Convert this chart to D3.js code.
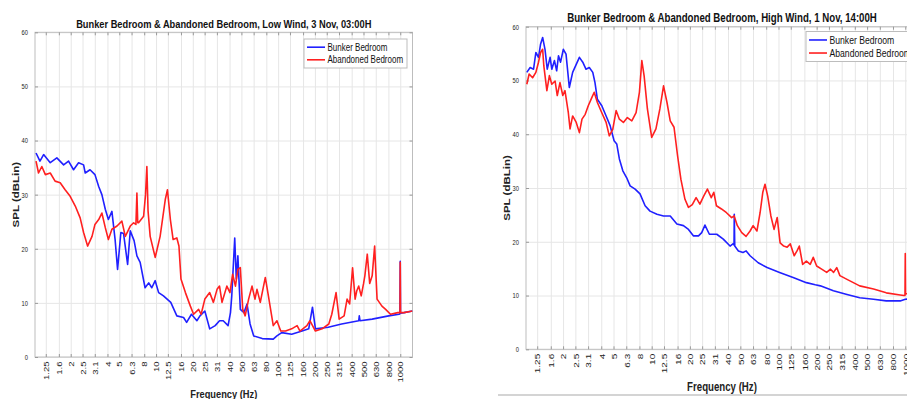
<!DOCTYPE html>
<html>
<head>
<meta charset="utf-8">
<title>Bunker Bedroom &amp; Abandoned Bedroom spectra</title>
<script src="https://cdn.jsdelivr.net/npm/d3@7/dist/d3.min.js"></script>
<style>
  html, body { margin: 0; padding: 0; background: #fff; }
  svg { display: block; font-family: "Liberation Sans", Arial, Helvetica, sans-serif; }
</style>
</head>
<body>
<svg id="chart" width="907" height="399"></svg>
<script>
// 1/3-octave band centres on the frequency axis (Hz) and the labels printed for them
const bandCentres = [1.25, 1.6, 2, 2.5, 3.15, 4, 5, 6.3, 8, 10, 12.5, 16, 20, 25, 31.5, 40, 50, 63, 80,
  100, 125, 160, 200, 250, 315, 400, 500, 630, 800, 1000];
const bandLabels = ["1.25", "1.6", "2", "2.5", "3.1", "4", "5", "6.3", "8", "10", "12.5", "16", "20", "25", "31",
  "40", "50", "63", "80", "100", "125", "160", "200", "250", "315", "400", "500", "630", "800", "1000"];
const splTicks = [0, 10, 20, 30, 40, 50, 60];
const seriesNames = ["Bunker Bedroom", "Abandoned Bedroom"];
const seriesColours = ["#2020ff", "#ff2020"];

// Low wind, 3 Nov, 03:00H  —  [frequency (Hz), SPL (dB Lin)]
const lowWindBunker = [
  [1.04, 37.7], [1.12, 36.2], [1.2, 37.4], [1.36, 35.9], [1.54, 36.8], [1.75, 35.5], [1.92, 36.2], [2.11, 34.6],
  [2.32, 35.9], [2.55, 35.5], [2.63, 34.0], [2.88, 34.6], [3.16, 33.7], [3.39, 31.5], [3.6, 30.0], [3.84, 27.3],
  [4.07, 25.4], [4.35, 26.9], [4.62, 21.7], [4.84, 16.2], [5.15, 23.0], [5.42, 22.8], [5.85, 17.1], [6.15, 23.3],
  [6.61, 21.5], [6.97, 18.7], [7.41, 17.5], [8.13, 12.8], [8.71, 13.7], [9.23, 12.8], [9.84, 14.1], [10.5, 11.9],
  [11.5, 11.3], [13.2, 10.1], [14.8, 7.6], [16.8, 7.3], [17.8, 6.4], [19.5, 7.9], [21.6, 6.7], [22.9, 7.6],
  [25.1, 8.5], [27.5, 5.2], [30.5, 5.8], [33.1, 6.7], [35.5, 6.7], [38.9, 5.8], [40.7, 8.2], [41.7, 11.3],
  [44.1, 22.0], [45.4, 14.4], [46.8, 18.7], [49.0, 8.8], [52.5, 8.2], [55.6, 9.8], [58.9, 6.1], [63.1, 3.9],
  [74.1, 3.4], [91.2, 3.3], [97.7, 3.9], [107, 4.5], [129, 4.2], [157, 4.8], [178, 5.2], [191, 9.2], [202, 5.2],
  [257, 5.5], [331, 6.1], [457, 6.7], [462, 7.6], [468, 6.7], [589, 7.0], [804, 7.6], [977, 7.9], [995, 8.0],
  [1000, 17.7], [1005, 8.1], [1072, 8.2], [1260, 8.5]
];
const lowWindAbandoned = [
  [1.04, 36.2], [1.09, 34.0], [1.16, 35.2], [1.24, 33.7], [1.36, 34.0], [1.49, 32.5], [1.64, 32.2], [1.8, 30.9],
  [1.98, 29.7], [2.18, 27.9], [2.39, 25.7], [2.55, 23.0], [2.75, 20.5], [2.99, 22.3], [3.16, 24.5], [3.39, 25.4],
  [3.6, 26.6], [3.84, 23.9], [4.07, 21.7], [4.35, 23.6], [4.79, 24.2], [5.25, 25.1], [5.6, 22.3], [6.15, 24.2],
  [6.55, 24.8], [6.84, 24.5], [6.97, 30.3], [7.08, 24.8], [7.19, 24.8], [7.91, 26.0], [8.2, 30.0], [8.41, 35.2],
  [8.6, 27.0], [8.95, 22.3], [9.84, 18.4], [10.8, 22.3], [11.9, 29.1], [12.4, 30.9], [13.1, 25.4], [13.8, 21.7],
  [14.8, 22.0], [15.4, 20.5], [16.0, 14.4], [17.4, 11.9], [19.1, 9.4], [20.3, 7.9], [22.3, 8.8], [23.4, 7.9],
  [25.1, 10.7], [27.5, 11.9], [29.5, 10.1], [31.6, 12.5], [33.1, 13.1], [34.7, 10.1], [38.0, 13.1], [40.3, 11.9],
  [42.4, 15.3], [44.7, 13.1], [46.8, 16.2], [49.0, 16.5], [51.3, 8.8], [53.7, 7.6], [57.3, 10.7], [61.1, 13.1],
  [64.6, 10.7], [67.1, 12.5], [71.4, 10.1], [78.5, 14.7], [83.2, 11.3], [91.2, 5.8], [97.7, 6.7], [105, 4.8],
  [115, 4.8], [129, 5.2], [143, 5.8], [151, 4.8], [172, 5.8], [182, 6.7], [202, 4.8], [229, 5.2], [260, 6.1],
  [275, 7.9], [298, 11.9], [316, 7.0], [347, 7.6], [367, 10.7], [385, 9.8], [407, 16.5], [427, 10.7], [440, 12.2],
  [457, 13.1], [479, 11.3], [500, 13.5], [513, 15.0], [537, 19.0], [562, 13.6], [589, 15.0], [617, 20.5],
  [646, 10.7], [708, 9.4], [759, 8.8], [832, 7.9], [955, 8.2], [995, 8.2], [1000, 17.5], [1005, 8.2], [1072, 8.2],
  [1260, 8.5]
];

// High wind, 1 Nov, 14:00H  —  [frequency (Hz), SPL (dB Lin)]
const highWindBunker = [
  [1.035, 51.5], [1.1, 52.4], [1.17, 52.1], [1.22, 55.2], [1.28, 54.3], [1.33, 56.8], [1.38, 58.0], [1.44, 55.8],
  [1.5, 52.1], [1.58, 54.3], [1.63, 52.1], [1.71, 53.7], [1.78, 51.8], [1.84, 54.6], [1.91, 53.4], [2.01, 55.8],
  [2.11, 54.9], [2.24, 48.7], [2.38, 51.5], [2.54, 53.0], [2.69, 54.3], [2.86, 53.4], [3.03, 52.1], [3.22, 52.4],
  [3.43, 51.5], [3.57, 49.6], [3.73, 46.5], [4.04, 45.3], [4.37, 43.4], [4.7, 41.6], [5.05, 38.8], [5.3, 38.2],
  [5.56, 35.4], [5.92, 33.2], [6.35, 31.9], [6.76, 30.4], [7.4, 29.8], [8.09, 28.9], [8.87, 26.7], [9.7, 25.7],
  [11.0, 25.1], [12.4, 24.8], [14.0, 24.8], [15.8, 23.3], [17.8, 23.0], [19.5, 22.3], [21.3, 21.1], [23.4, 21.1],
  [24.8, 21.7], [26.3, 23.1], [28.5, 21.4], [32.6, 21.4], [36.7, 20.5], [41.5, 19.2], [43.7, 19.6], [44.6, 19.4],
  [44.8, 25.1], [45.2, 19.2], [48.3, 18.3], [52.5, 18.0], [55.6, 18.3], [59.7, 17.4], [69.2, 16.1], [81.3, 15.2],
  [102, 14.3], [132, 13.3], [166, 12.4], [195, 12.0], [214, 11.8], [271, 10.9], [347, 10.2], [437, 9.6],
  [562, 9.3], [708, 9.0], [912, 9.0], [1000, 9.3], [1260, 9.6]
];
const highWindAbandoned = [
  [1.035, 49.3], [1.08, 51.2], [1.15, 50.5], [1.22, 51.5], [1.28, 53.4], [1.33, 55.2], [1.38, 55.8], [1.41, 52.7],
  [1.49, 48.1], [1.56, 50.9], [1.63, 49.3], [1.73, 49.9], [1.8, 47.2], [1.89, 49.6], [1.99, 47.2], [2.07, 48.1],
  [2.2, 44.0], [2.27, 41.0], [2.38, 43.4], [2.54, 42.2], [2.69, 40.3], [2.82, 42.8], [2.99, 43.7], [3.16, 45.3],
  [3.37, 46.8], [3.52, 47.8], [3.73, 45.9], [4.04, 44.0], [4.37, 42.2], [4.63, 39.7], [4.93, 40.9], [5.24, 44.4],
  [5.56, 42.8], [5.98, 42.2], [6.43, 43.1], [6.97, 42.5], [7.53, 44.0], [8.0, 47.8], [8.36, 53.7], [8.71, 50.9],
  [9.25, 44.7], [10.0, 39.4], [10.8, 41.0], [11.6, 44.7], [12.4, 49.0], [13.2, 45.9], [14.0, 42.5], [15.0, 41.3],
  [16.0, 36.0], [17.0, 31.6], [18.3, 27.9], [19.5, 26.4], [20.9, 26.9], [22.4, 28.2], [24.0, 27.0], [25.7, 28.5],
  [27.5, 29.8], [29.5, 28.2], [30.9, 29.2], [32.4, 26.7], [35.5, 26.1], [38.9, 25.4], [42.7, 24.5], [44.7, 24.8],
  [47.4, 23.0], [51.3, 21.7], [55.5, 21.0], [59.7, 22.0], [63.1, 23.0], [67.6, 22.0], [71.6, 25.4], [75.2, 29.2],
  [78.3, 30.7], [82.2, 28.5], [87.1, 24.8], [92.3, 22.3], [97.7, 24.5], [103, 19.8], [110, 19.2], [117, 19.0],
  [124, 19.6], [133, 17.4], [140, 18.3], [146, 19.2], [155, 15.8], [166, 16.4], [178, 15.8], [188, 17.1],
  [200, 15.5], [219, 14.9], [240, 14.3], [257, 14.9], [272, 14.3], [288, 15.2], [305, 13.7], [347, 13.0],
  [437, 11.8], [562, 11.2], [708, 10.5], [912, 10.1], [977, 10.0], [995, 10.0], [1000, 17.8], [1005, 10.3],
  [1260, 10.6]
];

const freqDomain = [1.02, 1260];
const splDomain = [0, 60];
const TEXT_SQUEEZE = 0.8;   // glyphs are drawn slightly condensed horizontally

const panels = [
  {
    title: "Bunker Bedroom & Abandoned Bedroom, Low Wind, 3 Nov, 03:00H",
    series: [lowWindBunker, lowWindAbandoned],
    box: { l: 35, r: 412.5, t: 32.3, b: 357 },
    titleY: 27.5, titleSize: 11.6,
    yLabelX: 16, xLabelY: 398, xLabelSize: 11.6,
    xTickSize: 9.5, yTickSize: 7.2,
    legend: { x: 304, y: 39, w: 103, h: 29, size: 10 }
  },
  {
    title: "Bunker Bedroom & Abandoned Bedroom, High Wind, 1 Nov, 14:00H",
    series: [highWindBunker, highWindAbandoned],
    box: { l: 526, r: 918, t: 26.7, b: 349.3 },
    titleY: 22, titleSize: 12.1,
    yLabelX: 507, xLabelY: 390.5, xLabelSize: 12.1,
    xTickSize: 10, yTickSize: 7.2,
    legend: { x: 806, y: 31.5, w: 125, h: 30, size: 10.8 }
  }
];

const svg = d3.select("#chart");
svg.append("rect").attr("width", 907).attr("height", 399).attr("fill", "#fff");
const defs = svg.append("defs");

function squeezeTransform(x, y, angle) {
  return `translate(${x},${y}) scale(${TEXT_SQUEEZE},1)` + (angle ? ` rotate(${angle})` : "");
}

const labelFor = d => bandLabels[bandCentres.indexOf(d)];

panels.forEach((p, pi) => {
  const { l, r, t, b } = p.box;
  const x = d3.scaleLog().domain(freqDomain).range([l, r]);
  const y = d3.scaleLinear().domain(splDomain).range([b, t]);
  const g = svg.append("g").attr("class", "panel");

  // grid
  g.append("g").attr("transform", `translate(0,${b})`)
    .call(d3.axisBottom(x).tickValues(bandCentres).tickSize(-(b - t)).tickFormat(""))
    .call(s => { s.select(".domain").remove(); s.selectAll("line").attr("stroke", "#e6e6e6"); });
  g.append("g").attr("transform", `translate(${l},0)`)
    .call(d3.axisLeft(y).tickValues(splTicks).tickSize(-(r - l)).tickFormat(""))
    .call(s => { s.select(".domain").remove(); s.selectAll("line").attr("stroke", "#e6e6e6"); });

  // frame
  g.append("rect").attr("x", l).attr("y", t).attr("width", r - l).attr("height", b - t)
    .attr("fill", "none").attr("stroke", "#bdbdbd");

  // inward ticks on top and right edges
  g.append("g").attr("transform", `translate(0,${t})`)
    .call(d3.axisTop(x).tickValues(bandCentres).tickSizeInner(-3).tickSizeOuter(0).tickFormat(""))
    .call(s => { s.select(".domain").remove(); s.selectAll("line").attr("stroke", "#9a9a9a"); });
  g.append("g").attr("transform", `translate(${r},0)`)
    .call(d3.axisRight(y).tickValues(splTicks).tickSizeInner(-3).tickSizeOuter(0).tickFormat(""))
    .call(s => { s.select(".domain").remove(); s.selectAll("line").attr("stroke", "#9a9a9a"); });

  // frequency axis
  const xa = g.append("g").attr("transform", `translate(0,${b})`)
    .call(d3.axisBottom(x).tickValues(bandCentres).tickSizeInner(-3).tickSizeOuter(0).tickFormat(labelFor));
  xa.attr("font-family", null).attr("font-size", null);
  xa.select(".domain").remove();
  xa.selectAll(".tick line").attr("stroke", "#9a9a9a");
  xa.selectAll(".tick text")
    .attr("x", 0).attr("y", 0).attr("dy", "0.35em")
    .attr("text-anchor", "end")
    .attr("transform", squeezeTransform(0, 4.5, -90))
    .attr("font-size", p.xTickSize).attr("fill", "#222");

  // SPL axis
  const ya = g.append("g").attr("transform", `translate(${l},0)`)
    .call(d3.axisLeft(y).tickValues(splTicks).tickSizeInner(-3).tickSizeOuter(0));
  ya.attr("font-family", null).attr("font-size", null);
  ya.select(".domain").remove();
  ya.selectAll(".tick line").attr("stroke", "#9a9a9a");
  ya.selectAll(".tick text")
    .attr("x", 0).attr("dy", "0.34em")
    .attr("text-anchor", "end")
    .attr("transform", squeezeTransform(-7, 0))
    .attr("font-size", p.yTickSize).attr("fill", "#222");

  // spectra
  const clipId = `plot-area-${pi}`;
  defs.append("clipPath").attr("id", clipId)
    .append("rect").attr("x", l).attr("y", t).attr("width", r - l).attr("height", b - t);
  const line = d3.line().x(d => x(d[0])).y(d => y(d[1]));
  g.append("g").attr("clip-path", `url(#${clipId})`)
    .selectAll("path").data(p.series).join("path")
    .attr("d", line)
    .attr("fill", "none")
    .attr("stroke", (d, i) => seriesColours[i])
    .attr("stroke-width", 1.6)
    .attr("stroke-linejoin", "round");

  // title and axis labels
  g.append("text").text(p.title)
    .attr("transform", squeezeTransform((l + r) / 2, p.titleY))
    .attr("text-anchor", "middle").attr("font-weight", "bold")
    .attr("font-size", p.titleSize).attr("fill", "#111");
  g.append("text").text("Frequency (Hz)")
    .attr("transform", squeezeTransform((l + r) / 2, p.xLabelY))
    .attr("text-anchor", "middle").attr("font-weight", "bold")
    .attr("font-size", p.xLabelSize).attr("fill", "#222");
  g.append("text").text("SPL (dBLin)")
    .attr("transform", squeezeTransform(p.yLabelX, (t + b) / 2, -90))
    .attr("dy", "0.35em")
    .attr("text-anchor", "middle").attr("font-weight", "bold")
    .attr("font-size", 11.5).attr("fill", "#222");

  // legend
  const lg = g.append("g").attr("transform", `translate(${p.legend.x},${p.legend.y})`);
  lg.append("rect").attr("width", p.legend.w).attr("height", p.legend.h)
    .attr("fill", "#fff").attr("stroke", "#bdbdbd");
  const rowH = p.legend.h / 2.3;
  seriesNames.forEach((name, i) => {
    const cy = p.legend.h / 2 + (i - 0.5) * rowH;
    lg.append("line").attr("x1", 3).attr("x2", 21).attr("y1", cy).attr("y2", cy)
      .attr("stroke", seriesColours[i]).attr("stroke-width", 1.6);
    lg.append("text").text(name)
      .attr("transform", squeezeTransform(23.5, cy))
      .attr("dy", "0.35em")
      .attr("font-size", p.legend.size).attr("fill", "#111");
  });
});

// page rule beneath the right-hand figure
svg.append("line").attr("x1", 498).attr("x2", 907).attr("y1", 395).attr("y2", 395)
  .attr("stroke", "#d4d4d4").attr("stroke-width", 2);
</script>
</body>
</html>
